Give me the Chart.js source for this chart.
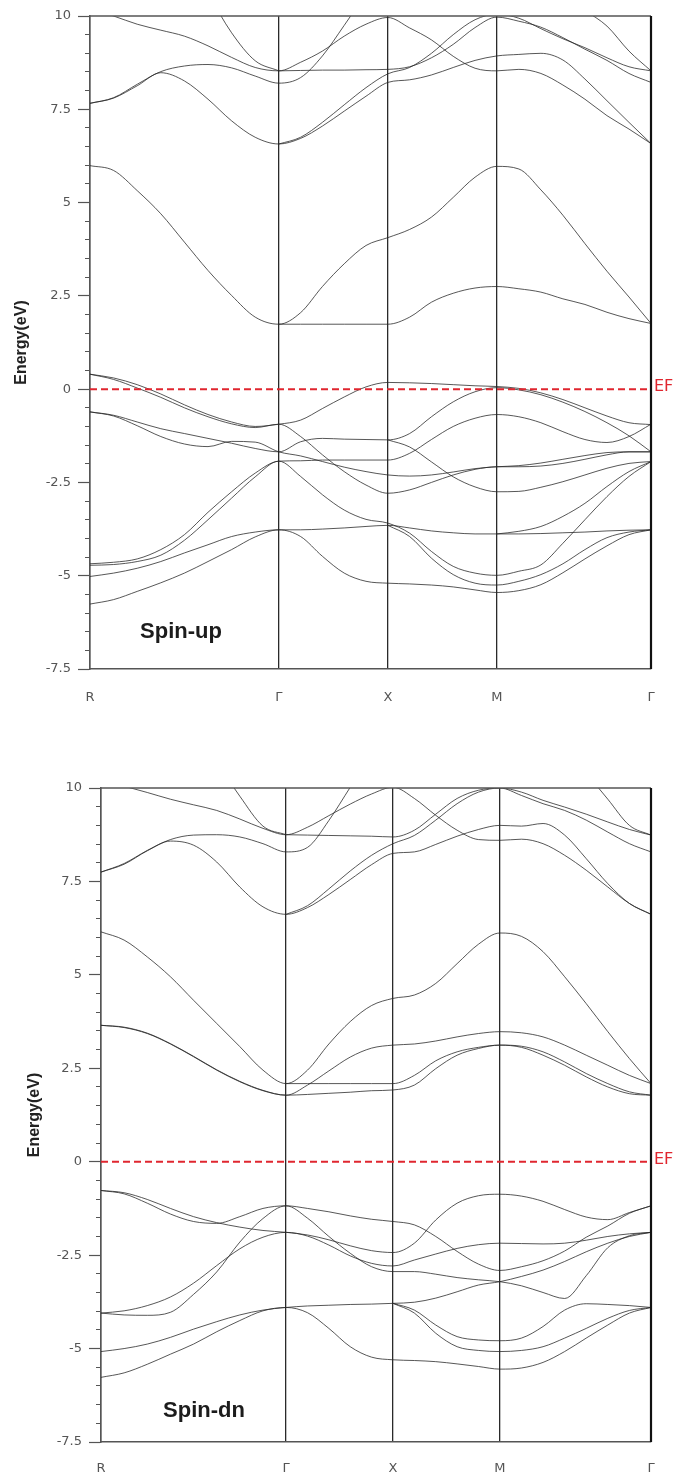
<!DOCTYPE html>
<html>
<head>
<meta charset="utf-8">
<title>Band structure – spin-up / spin-dn</title>
<script src="https://cdn.jsdelivr.net/npm/chart.js@4.4.1/dist/chart.umd.min.js"></script>
<style>
  html, body { margin: 0; padding: 0; background: #ffffff; }
  #wrap { position: relative; width: 678px; height: 1479px; overflow: hidden; }
  .panel { position: absolute; left: 0; width: 678px; }
  #upBox { top: 0; height: 740px; }
  #dnBox { top: 740px; height: 739px; }
</style>
</head>
<body>
<div id="wrap">
  <div class="panel" id="upBox"><canvas id="upChart"></canvas></div>
  <div class="panel" id="dnBox"><canvas id="dnChart"></canvas></div>
</div>
<script>
// k-path R–Γ–X–M–Γ (path length in units of 2π/a)
const kPath = [0, 0.2165, 0.433, 0.6495, 0.866, 1.0825, 1.299, 1.5155, 1.732,
               1.932, 2.132, 2.332, 2.532, 2.732,
               2.932, 3.132, 3.332, 3.532, 3.732,
               3.934, 4.136, 4.338, 4.540, 4.742, 4.944, 5.146];
const kTicks = [0, 1.732, 2.732, 3.732, 5.146];
const kLabels = ['R', 'Γ', 'X', 'M', 'Γ'];
const yTicks = [-7.5, -5, -2.5, 0, 2.5, 5, 7.5, 10];
const yTickLabels = ['-7.5', '-5', '-2.5', '0', '2.5', '5', '7.5', '10'];
const fermiLevel = 0;
const _ = null;

// spin-up, occupied bands (eV)
const upValence = [
  [0.40, 0.30, 0.12, -0.13, -0.42, -0.68, -0.88, -1.00, -0.94, -0.83, -0.52, -0.21, 0.06, 0.18, 0.17, 0.15, 0.12, 0.09, 0.07, 0.02, -0.10, -0.28, -0.50, -0.72, -0.90, -0.95],
  [0.40, 0.26, 0.03, -0.22, -0.50, -0.74, -0.93, -1.03, -0.94, -1.27, -1.76, -2.21, -2.57, -2.79, -2.70, -2.50, -2.30, -2.15, -2.08, -2.08, -2.06, -1.99, -1.88, -1.76, -1.68, -1.68],
  [-0.61, -0.70, -0.88, -1.06, -1.19, -1.32, -1.45, -1.59, -1.68, -1.41, -1.32, -1.34, -1.35, -1.36, -1.19, -0.74, -0.34, -0.07, 0.04, -0.02, -0.15, -0.35, -0.60, -0.90, -1.25, -1.68],
  [-0.61, -0.72, -0.98, -1.27, -1.47, -1.54, -1.40, -1.42, -1.68, -1.79, -1.94, -2.09, -2.21, -2.30, -2.33, -2.30, -2.22, -2.13, -2.08, -2.05, -1.98, -1.88, -1.78, -1.70, -1.68, -1.68],
  [-4.68, -4.64, -4.55, -4.30, -3.90, -3.30, -2.75, -2.25, -1.93, -1.92, -1.90, -1.90, -1.90, -1.90, -1.72, -1.35, -1.00, -0.78, -0.68, -0.74, -0.90, -1.14, -1.35, -1.43, -1.27, -0.94],
  [-4.72, -4.70, -4.62, -4.45, -4.05, -3.50, -2.92, -2.35, -1.93, -2.34, -2.83, -3.24, -3.49, -3.59, -3.86, -4.35, -4.75, -4.93, -4.99, -4.88, -4.71, -4.13, -3.50, -2.88, -2.34, -1.94],
  [-5.02, -4.93, -4.80, -4.62, -4.39, -4.17, -3.95, -3.83, -3.77, -3.77, -3.75, -3.72, -3.68, -3.65, -3.72, -3.80, -3.85, -3.88, -3.88, -3.88, -3.87, -3.85, -3.83, -3.80, -3.78, -3.77],
  [-5.76, -5.64, -5.42, -5.19, -4.93, -4.62, -4.30, -3.96, -3.77, -3.95, -4.48, -4.93, -5.15, -5.20, -5.22, -5.25, -5.30, -5.38, -5.45, -5.40, -5.24, -4.92, -4.55, -4.20, -3.90, -3.77],
  [_, _, _, _, _, _, _, _, _, _, _, _, _, -3.65, -3.95, -4.53, -4.97, -5.20, -5.25, -5.15, -4.97, -4.68, -4.30, -3.98, -3.83, -3.77],
  [_, _, _, _, _, _, _, _, _, _, _, _, _, _, _, _, _, _, -3.88, -3.81, -3.68, -3.41, -3.06, -2.61, -2.21, -1.94],
  [_, _, _, _, _, _, _, _, _, _, _, _, _, -1.36, -1.55, -1.95, -2.35, -2.62, -2.75, -2.74, -2.63, -2.48, -2.30, -2.12, -1.99, -1.94]
];

// spin-up, empty bands (eV)
const upConduction = [
  [5.99, 5.86, 5.32, 4.70, 3.94, 3.18, 2.51, 1.93, 1.74, 2.05, 2.75, 3.36, 3.85, 4.06, 4.28, 4.61, 5.14, 5.68, 5.97, 5.90, 5.34, 4.66, 3.90, 3.16, 2.47, 1.76],
  [_, _, _, _, _, _, _, _, 1.74, 1.74, 1.74, 1.74, 1.74, 1.74, 1.93, 2.33, 2.57, 2.71, 2.75, 2.69, 2.60, 2.42, 2.27, 2.06, 1.89, 1.76],
  [7.66, 7.81, 8.17, 8.51, 8.66, 8.70, 8.61, 8.39, 8.20, 8.35, 8.93, 9.75, 10.6, _, _, _, _, _, _, _, _, _, _, _, _, _],
  [7.66, 7.80, 8.13, 8.48, 8.26, 7.77, 7.19, 6.75, 6.57, 6.72, 7.05, 7.45, 7.85, 8.22, 8.29, 8.42, 8.62, 8.81, 8.93, 8.97, 9.00, 8.82, 8.31, 7.73, 7.15, 6.58],
  [_, _, _, _, _, _, _, _, 6.57, 6.75, 7.15, 7.62, 8.08, 8.45, 8.62, 9.00, 9.50, 9.90, 10.05, 9.94, 9.66, 9.39, 9.15, 8.88, 8.64, 8.53],
  [_, _, _, _, _, _, _, _, 8.53, 8.54, 8.55, 8.55, 8.56, 8.57, 8.64, 8.88, 9.24, 9.69, 9.97, 9.86, 9.70, 9.42, 9.11, 8.81, 8.46, 8.22],
  [10.2, 10.0, 9.78, 9.62, 9.46, 9.20, 8.89, 8.62, 8.53, 8.76, 9.06, 9.46, 9.78, 9.96, 9.68, 9.36, 8.92, 8.60, 8.53, 8.57, 8.46, 8.15, 7.77, 7.33, 6.97, 6.58],
  [_, _, _, _, _, 10.6, 9.55, 8.80, 8.53, _, _, _, _, _, _, _, _, _, _, _, _, _, _, _, _, _],
  [_, _, _, _, _, _, _, _, _, _, _, _, _, _, _, _, _, _, _, _, _, _, 10.15, 9.73, 9.06, 8.53]
];

// spin-dn, occupied bands (eV)
const dnValence = [
  [-0.77, -0.86, -1.11, -1.40, -1.60, -1.65, -1.47, -1.25, -1.18, -1.25, -1.34, -1.45, -1.54, -1.60, -1.69, -2.00, -2.40, -2.74, -2.91, -2.81, -2.65, -2.39, -2.02, -1.72, -1.38, -1.18],
  [-0.77, -0.83, -1.01, -1.25, -1.47, -1.63, -1.75, -1.84, -1.89, -1.96, -2.09, -2.25, -2.38, -2.43, -2.18, -1.56, -1.11, -0.91, -0.87, -0.92, -1.06, -1.28, -1.48, -1.55, -1.36, -1.18],
  [-4.05, -4.10, -4.11, -4.03, -3.55, -2.95, -2.15, -1.52, -1.18, -1.51, -2.00, -2.45, -2.81, -2.94, -2.94, -3.01, -3.10, -3.16, -3.21, -3.32, -3.50, -3.66, -3.05, -2.30, -1.98, -1.89],
  [-4.05, -3.99, -3.85, -3.62, -3.25, -2.78, -2.33, -2.02, -1.89, -1.99, -2.23, -2.52, -2.72, -2.79, -2.63, -2.47, -2.32, -2.22, -2.18, -2.19, -2.20, -2.18, -2.10, -2.00, -1.93, -1.89],
  [-5.08, -5.00, -4.88, -4.70, -4.48, -4.28, -4.10, -3.97, -3.90, -3.86, -3.84, -3.82, -3.81, -3.79, -3.76, -3.65, -3.48, -3.30, -3.21, -3.07, -2.90, -2.67, -2.41, -2.18, -2.00, -1.89],
  [-5.77, -5.65, -5.42, -5.15, -4.88, -4.55, -4.25, -3.99, -3.90, -4.04, -4.46, -4.95, -5.23, -5.30, -5.32, -5.35, -5.41, -5.48, -5.55, -5.52, -5.37, -5.08, -4.72, -4.37, -4.05, -3.90],
  [_, _, _, _, _, _, _, _, _, _, _, _, _, -3.79, -3.97, -4.37, -4.68, -4.77, -4.79, -4.72, -4.41, -3.97, -3.80, -3.82, -3.85, -3.90],
  [_, _, _, _, _, _, _, _, _, _, _, _, _, -3.79, -4.05, -4.59, -4.95, -5.05, -5.08, -5.05, -4.95, -4.72, -4.46, -4.19, -3.98, -3.90]
];

// spin-dn, empty bands (eV)
const dnConduction = [
  [6.15, 5.93, 5.48, 4.95, 4.32, 3.70, 3.08, 2.45, 2.09, 2.45, 3.15, 3.75, 4.18, 4.37, 4.46, 4.77, 5.30, 5.82, 6.12, 6.03, 5.62, 4.95, 4.23, 3.48, 2.76, 2.09],
  [3.65, 3.59, 3.43, 3.15, 2.81, 2.45, 2.14, 1.90, 1.78, 2.05, 2.43, 2.80, 3.04, 3.12, 3.15, 3.23, 3.34, 3.43, 3.48, 3.45, 3.34, 3.12, 2.85, 2.58, 2.31, 2.09],
  [_, _, _, _, _, _, _, _, 2.09, 2.09, 2.09, 2.09, 2.09, 2.09, 2.31, 2.70, 2.94, 3.06, 3.12, 3.09, 2.94, 2.67, 2.36, 2.09, 1.87, 1.78],
  [3.65, 3.60, 3.44, 3.16, 2.82, 2.46, 2.15, 1.91, 1.78, 1.80, 1.83, 1.86, 1.90, 1.92, 2.05, 2.49, 2.85, 3.03, 3.12, 3.06, 2.85, 2.58, 2.27, 2.00, 1.82, 1.78],
  [7.75, 7.98, 8.33, 8.62, 8.74, 8.75, 8.69, 8.51, 8.29, 8.41, 9.13, 10.02, 10.9, _, _, _, _, _, _, _, _, _, _, _, _, _],
  [7.75, 7.96, 8.32, 8.58, 8.47, 8.02, 7.35, 6.82, 6.62, 6.80, 7.15, 7.55, 7.95, 8.25, 8.29, 8.49, 8.71, 8.89, 9.00, 8.98, 9.05, 8.74, 8.11, 7.44, 6.91, 6.62],
  [_, _, _, _, _, _, _, _, 6.62, 6.85, 7.30, 7.78, 8.20, 8.51, 8.73, 9.14, 9.58, 9.89, 10.0, 9.80, 9.58, 9.40, 9.14, 8.82, 8.51, 8.29],
  [10.2, 10.05, 9.88, 9.70, 9.55, 9.40, 9.17, 8.92, 8.75, 8.95, 9.26, 9.57, 9.84, 10.02, 9.72, 9.27, 8.87, 8.62, 8.60, 8.63, 8.51, 8.20, 7.80, 7.35, 6.91, 6.62],
  [_, _, _, _, _, _, _, _, 8.75, 8.74, 8.73, 8.72, 8.71, 8.69, 8.87, 9.30, 9.72, 9.94, 10.0, 9.89, 9.67, 9.49, 9.30, 9.09, 8.89, 8.74],
  [_, _, _, _, _, 10.7, 9.78, 8.98, 8.75, _, _, _, _, _, _, _, _, _, _, _, _, _, _, _, _, _],
  [_, _, _, _, _, _, _, _, _, _, _, _, _, _, _, _, _, _, _, _, _, _, 10.4, 9.7, 9.0, 8.74]
];

Chart.defaults.font.family = '"Liberation Sans", Arial, Helvetica, sans-serif';

const TICK_FONT = '"DejaVu Sans", "Liberation Sans", sans-serif';
const BAND_COLOR = 'rgba(40,40,40,0.78)';
const EF_COLOR = '#e0262f';

function bandDatasets(bands) {
  return bands.map(b => ({
    data: kPath.map((k, i) => ({ x: k, y: b[i] })),
    borderColor: BAND_COLOR,
    borderWidth: 1,
    pointRadius: 0,
    fill: false,
    spanGaps: false,
    cubicInterpolationMode: 'monotone'
  }));
}

function fermiDataset() {
  return {
    data: [{ x: kPath[0], y: fermiLevel }, { x: kPath[kPath.length - 1], y: fermiLevel }],
    borderColor: EF_COLOR,
    borderWidth: 2,
    borderDash: [7, 4],
    pointRadius: 0,
    order: -1
  };
}

// frame, Fermi-level tag and spin-channel caption
const panelDecor = {
  id: 'panelDecor',
  afterDraw(chart, args, opts) {
    const { ctx, chartArea: a, scales } = chart;
    ctx.save();
    ctx.strokeStyle = '#555';
    ctx.lineWidth = 1.5;
    ctx.beginPath();
    ctx.moveTo(a.left, a.top);
    ctx.lineTo(a.right, a.top);
    ctx.stroke();
    ctx.strokeStyle = '#111';
    ctx.lineWidth = 2.2;
    ctx.beginPath();
    ctx.moveTo(a.right, a.top);
    ctx.lineTo(a.right, a.bottom);
    ctx.stroke();

    const yEF = scales.y.getPixelForValue(fermiLevel);
    ctx.fillStyle = EF_COLOR;
    ctx.font = '16px ' + TICK_FONT;
    ctx.textAlign = 'left';
    ctx.textBaseline = 'alphabetic';
    ctx.fillText('EF', a.right + 3, yEF + 2);

    ctx.fillStyle = '#1c1c1c';
    ctx.font = 'bold 22px "Liberation Sans", Arial, sans-serif';
    ctx.textAlign = 'center';
    ctx.textBaseline = 'alphabetic';
    ctx.fillText(opts.text, scales.x.getPixelForValue(opts.x), scales.y.getPixelForValue(opts.y));
    ctx.restore();
  }
};

function makeChart(canvasId, bands, caption, geom) {
  return new Chart(document.getElementById(canvasId), {
    type: 'line',
    data: { datasets: [fermiDataset(), ...bandDatasets(bands)] },
    options: {
      responsive: true,
      maintainAspectRatio: false,
      animation: false,
      events: [],
      layout: { padding: { left: 0, top: geom.top, right: geom.right, bottom: 0 } },
      plugins: {
        legend: { display: false },
        tooltip: { enabled: false },
        panelDecor: caption
      },
      scales: {
        x: {
          type: 'linear',
          min: kPath[0],
          max: kPath[kPath.length - 1],
          afterBuildTicks: s => { s.ticks = kTicks.map(v => ({ value: v })); },
          afterFit: s => { s.height = geom.xHeight; },
          ticks: {
            callback: v => kLabels[kTicks.indexOf(v)],
            autoSkip: false,
            maxRotation: 0,
            padding: geom.xPad,
            color: '#555',
            font: { size: 13, family: TICK_FONT }
          },
          grid: { drawOnChartArea: true, drawTicks: false, color: '#2a2a2a', lineWidth: 1.3 },
          border: { display: true, color: '#555', width: 1.5 }
        },
        y: {
          position: 'left',
          weight: 1,
          min: -7.5,
          max: 10,
          afterBuildTicks: s => { s.ticks = yTicks.map(v => ({ value: v })); },
          afterFit: s => { s.width = geom.yWidth; },
          ticks: {
            callback: v => yTickLabels[yTicks.indexOf(v)],
            padding: 7,
            color: '#555',
            font: { size: 13, family: TICK_FONT }
          },
          grid: { drawOnChartArea: false, drawTicks: true, tickLength: 12, tickColor: '#555', tickWidth: 1.2 },
          border: { display: true, color: '#555', width: 1.5 },
          title: {
            display: true,
            text: 'Energy(eV)',
            color: '#222',
            font: { size: 16, weight: 'bold' },
            padding: { top: geom.titlePad, bottom: 0 }
          }
        },
        yMinor: {
          position: 'left',
          weight: 0,
          min: -7.5,
          max: 10,
          afterBuildTicks: s => {
            const t = [];
            for (let v = -7.5; v <= 10.001; v += 0.5) t.push({ value: Math.round(v * 10) / 10 });
            s.ticks = t;
          },
          afterFit: s => { s.width = 0; },
          ticks: { display: false },
          grid: { drawOnChartArea: false, drawTicks: true, tickLength: 5, tickColor: '#555', tickWidth: 1 },
          border: { display: false }
        }
      }
    },
    plugins: [panelDecor]
  });
}

makeChart('upChart', [...upValence, ...upConduction],
  { text: 'Spin-up', x: 0.835, y: -6.68 },
  { top: 16, right: 27, xHeight: 71, yWidth: 90, xPad: 21, titlePad: 12 });

makeChart('dnChart', [...dnValence, ...dnConduction],
  { text: 'Spin-dn', x: 0.964, y: -6.83 },
  { top: 48, right: 27, xHeight: 37, yWidth: 101, xPad: 19, titlePad: 25 });
</script>
</body>
</html>
